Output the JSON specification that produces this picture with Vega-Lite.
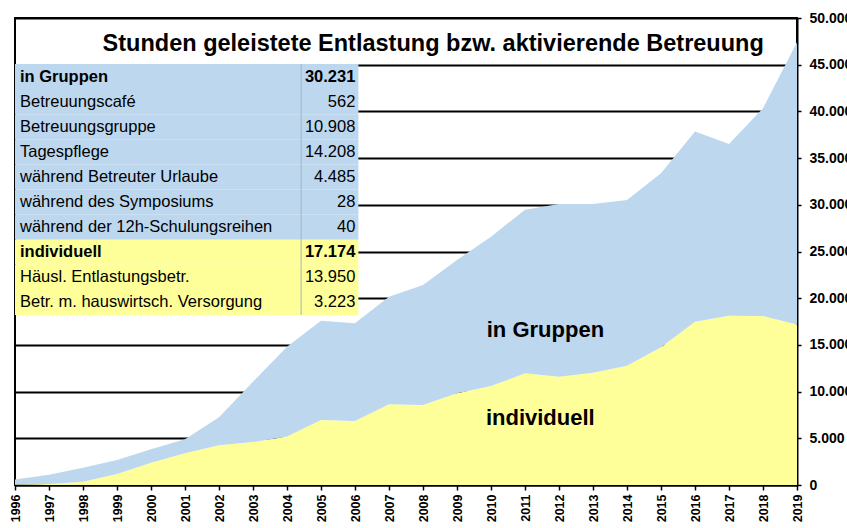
{
  "$schema": "https://vega.github.io/schema/vega-lite/v6.json",
  "width": 782,
  "height": 467,
  "autosize": {"type": "none"},
  "padding": {"left": 15, "top": 18, "right": 50, "bottom": 43},
  "background": "white",
  "config": {
    "view": {"stroke": "black", "strokeWidth": 2},
    "font": "Liberation Sans"
  },
  "datasets": {
    "series": [
      {"year": 1996, "category": "individuell", "value": 50},
      {"year": 1996, "category": "in Gruppen", "value": 550},
      {"year": 1997, "category": "individuell", "value": 100},
      {"year": 1997, "category": "in Gruppen", "value": 1000},
      {"year": 1998, "category": "individuell", "value": 360},
      {"year": 1998, "category": "in Gruppen", "value": 1490},
      {"year": 1999, "category": "individuell", "value": 1180},
      {"year": 1999, "category": "in Gruppen", "value": 1500},
      {"year": 2000, "category": "individuell", "value": 2390},
      {"year": 2000, "category": "in Gruppen", "value": 1430},
      {"year": 2001, "category": "individuell", "value": 3390},
      {"year": 2001, "category": "in Gruppen", "value": 1500},
      {"year": 2002, "category": "individuell", "value": 4250},
      {"year": 2002, "category": "in Gruppen", "value": 3000},
      {"year": 2003, "category": "individuell", "value": 4600},
      {"year": 2003, "category": "in Gruppen", "value": 6460},
      {"year": 2004, "category": "individuell", "value": 5180},
      {"year": 2004, "category": "in Gruppen", "value": 9620},
      {"year": 2005, "category": "individuell", "value": 6960},
      {"year": 2005, "category": "in Gruppen", "value": 10630},
      {"year": 2006, "category": "individuell", "value": 6850},
      {"year": 2006, "category": "in Gruppen", "value": 10460},
      {"year": 2007, "category": "individuell", "value": 8640},
      {"year": 2007, "category": "in Gruppen", "value": 11520},
      {"year": 2008, "category": "individuell", "value": 8570},
      {"year": 2008, "category": "in Gruppen", "value": 12840},
      {"year": 2009, "category": "individuell", "value": 9820},
      {"year": 2009, "category": "in Gruppen", "value": 14270},
      {"year": 2010, "category": "individuell", "value": 10600},
      {"year": 2010, "category": "in Gruppen", "value": 15990},
      {"year": 2011, "category": "individuell", "value": 11960},
      {"year": 2011, "category": "in Gruppen", "value": 17520},
      {"year": 2012, "category": "individuell", "value": 11600},
      {"year": 2012, "category": "in Gruppen", "value": 18490},
      {"year": 2013, "category": "individuell", "value": 12030},
      {"year": 2013, "category": "in Gruppen", "value": 18060},
      {"year": 2014, "category": "individuell", "value": 12780},
      {"year": 2014, "category": "in Gruppen", "value": 17730},
      {"year": 2015, "category": "individuell", "value": 14740},
      {"year": 2015, "category": "in Gruppen", "value": 18630},
      {"year": 2016, "category": "individuell", "value": 17490},
      {"year": 2016, "category": "in Gruppen", "value": 20350},
      {"year": 2017, "category": "individuell", "value": 18130},
      {"year": 2017, "category": "in Gruppen", "value": 18380},
      {"year": 2018, "category": "individuell", "value": 18100},
      {"year": 2018, "category": "in Gruppen", "value": 22230},
      {"year": 2019, "category": "individuell", "value": 17174},
      {"year": 2019, "category": "in Gruppen", "value": 30231}
    ],
    "table": [
      {"item": "in Gruppen", "amount": "30.231", "category": "in Gruppen", "kind": "head"},
      {"item": "Betreuungscafé", "amount": "562", "category": "in Gruppen", "kind": "sub"},
      {"item": "Betreuungsgruppe", "amount": "10.908", "category": "in Gruppen", "kind": "sub"},
      {"item": "Tagespflege", "amount": "14.208", "category": "in Gruppen", "kind": "sub"},
      {"item": "während Betreuter Urlaube", "amount": "4.485", "category": "in Gruppen", "kind": "sub"},
      {"item": "während des Symposiums", "amount": "28", "category": "in Gruppen", "kind": "sub"},
      {"item": "während der 12h-Schulungsreihen", "amount": "40", "category": "in Gruppen", "kind": "sub"},
      {"item": "individuell", "amount": "17.174", "category": "individuell", "kind": "head"},
      {"item": "Häusl. Entlastungsbetr.", "amount": "13.950", "category": "individuell", "kind": "sub"},
      {"item": "Betr. m. hauswirtsch. Versorgung", "amount": "3.223", "category": "individuell", "kind": "sub"}
    ],
    "one": [{}]
  },
  "layer": [
    {
      "data": {"name": "series"},
      "mark": {"type": "area", "interpolate": "linear"},
      "encoding": {
        "x": {
          "field": "year", "type": "quantitative",
          "scale": {"domain": [1996, 2019], "nice": false, "zero": false},
          "axis": {
            "title": null, "grid": false,
            "values": [1996,1997,1998,1999,2000,2001,2002,2003,2004,2005,2006,2007,2008,2009,2010,2011,2012,2013,2014,2015,2016,2017,2018,2019],
            "format": "d", "labelAngle": 270, "labelAlign": "right", "labelBaseline": "middle",
            "labelFontWeight": "bold", "labelFontSize": 12.5,
            "labelColor": "black", "labelPadding": 4, "labelOverlap": false, "labelFlush": false,
            "domainColor": "black", "domainWidth": 2,
            "tickColor": "black", "tickSize": 5, "tickWidth": 1.5
          }
        },
        "y": {
          "field": "value", "type": "quantitative", "stack": "zero",
          "scale": {"domain": [0, 50000], "nice": false},
          "axis": {
            "orient": "right", "title": null,
            "values": [0,5000,10000,15000,20000,25000,30000,35000,40000,45000,50000],
            "labelExpr": "replace(format(datum.value, ','), ',', '.')",
            "labelFontWeight": "bold", "labelFontSize": 14, "labelColor": "black", "labelPadding": 8,
            "labelOverlap": false, "labelFlush": false,
            "domainColor": "black", "domainWidth": 2,
            "tickColor": "black", "tickSize": 4, "tickWidth": 1.5,
            "grid": true, "gridColor": "black", "gridWidth": 2, "gridOpacity": 1
          }
        },
        "color": {
          "field": "category", "type": "nominal",
          "scale": {"domain": ["individuell", "in Gruppen"], "range": ["#FFFF99", "#BDD7EE"]},
          "legend": null
        },
        "order": {"field": "category", "sort": "descending"}
      }
    },
    {
      "data": {"name": "table"},
      "encoding": {
        "y": {"field": "item", "type": "ordinal", "sort": null,
              "scale": {"type": "band", "range": [46, 297], "paddingInner": 0, "paddingOuter": 0}, "axis": null}
      },
      "layer": [
        {
          "mark": {"type": "rect"},
          "encoding": {
            "x": {"datum": 1996, "type": "quantitative", "axis": null},
            "x2": {"datum": 2006.1},
            "color": {"field": "category", "type": "nominal",
              "scale": {"domain": ["individuell", "in Gruppen"], "range": ["#FFFF99", "#BDD7EE"]}, "legend": null}
          }
        },
        {
          "mark": {"type": "rect", "color": "#a9b4bf"},
          "encoding": {
            "x": {"datum": 2004.4, "type": "quantitative", "axis": null},
            "x2": {"datum": 2004.43}
          }
        },
        {
          "mark": {"type": "text", "align": "left", "baseline": "middle", "dx": 5, "fontSize": 16.5, "color": "black"},
          "encoding": {
            "x": {"datum": 1996, "type": "quantitative", "axis": null},
            "text": {"condition": {"test": "datum.kind == 'sub'", "field": "item"}, "value": ""}
          }
        },
        {
          "mark": {"type": "text", "align": "left", "baseline": "middle", "dx": 5, "fontSize": 16.5, "fontWeight": "bold", "color": "black"},
          "encoding": {
            "x": {"datum": 1996, "type": "quantitative", "axis": null},
            "text": {"condition": {"test": "datum.kind == 'head'", "field": "item"}, "value": ""}
          }
        },
        {
          "mark": {"type": "text", "align": "right", "baseline": "middle", "dx": -3, "fontSize": 16.5, "color": "black"},
          "encoding": {
            "x": {"datum": 2006.1, "type": "quantitative", "axis": null},
            "text": {"condition": {"test": "datum.kind == 'sub'", "field": "amount"}, "value": ""}
          }
        },
        {
          "mark": {"type": "text", "align": "right", "baseline": "middle", "dx": -3, "fontSize": 16.5, "fontWeight": "bold", "color": "black"},
          "encoding": {
            "x": {"datum": 2006.1, "type": "quantitative", "axis": null},
            "text": {"condition": {"test": "datum.kind == 'head'", "field": "amount"}, "value": ""}
          }
        }
      ],
      "resolve": {"axis": {"x": "independent"}}
    },
    {
      "data": {"name": "one"},
      "encoding": {
        "y": {"datum": 47250, "type": "quantitative", "scale": {"domain": [0, 50000], "nice": false}, "axis": null}
      },
      "layer": [
        {
          "mark": {"type": "text", "align": "center", "baseline": "middle", "fontSize": 23.5, "fontWeight": "bold", "color": "black"},
          "encoding": {
            "x": {"datum": 2008.3, "type": "quantitative", "axis": null},
            "y": {"datum": 47200, "type": "quantitative"},
            "text": {"value": "Stunden geleistete Entlastung bzw. aktivierende Betreuung"}
          }
        },
        {
          "mark": {"type": "text", "align": "center", "baseline": "middle", "fontSize": 22, "fontWeight": "bold", "color": "black"},
          "encoding": {
            "x": {"datum": 2011.6, "type": "quantitative", "axis": null},
            "y": {"datum": 16600, "type": "quantitative"},
            "text": {"value": "in Gruppen"}
          }
        },
        {
          "mark": {"type": "text", "align": "center", "baseline": "middle", "fontSize": 22, "fontWeight": "bold", "color": "black"},
          "encoding": {
            "x": {"datum": 2011.45, "type": "quantitative", "axis": null},
            "y": {"datum": 7150, "type": "quantitative"},
            "text": {"value": "individuell"}
          }
        }
      ],
      "resolve": {"axis": {"x": "independent"}}
    }
  ],
  "resolve": {"scale": {"y": "independent"}, "axis": {"y": "independent", "x": "independent"}}
}
